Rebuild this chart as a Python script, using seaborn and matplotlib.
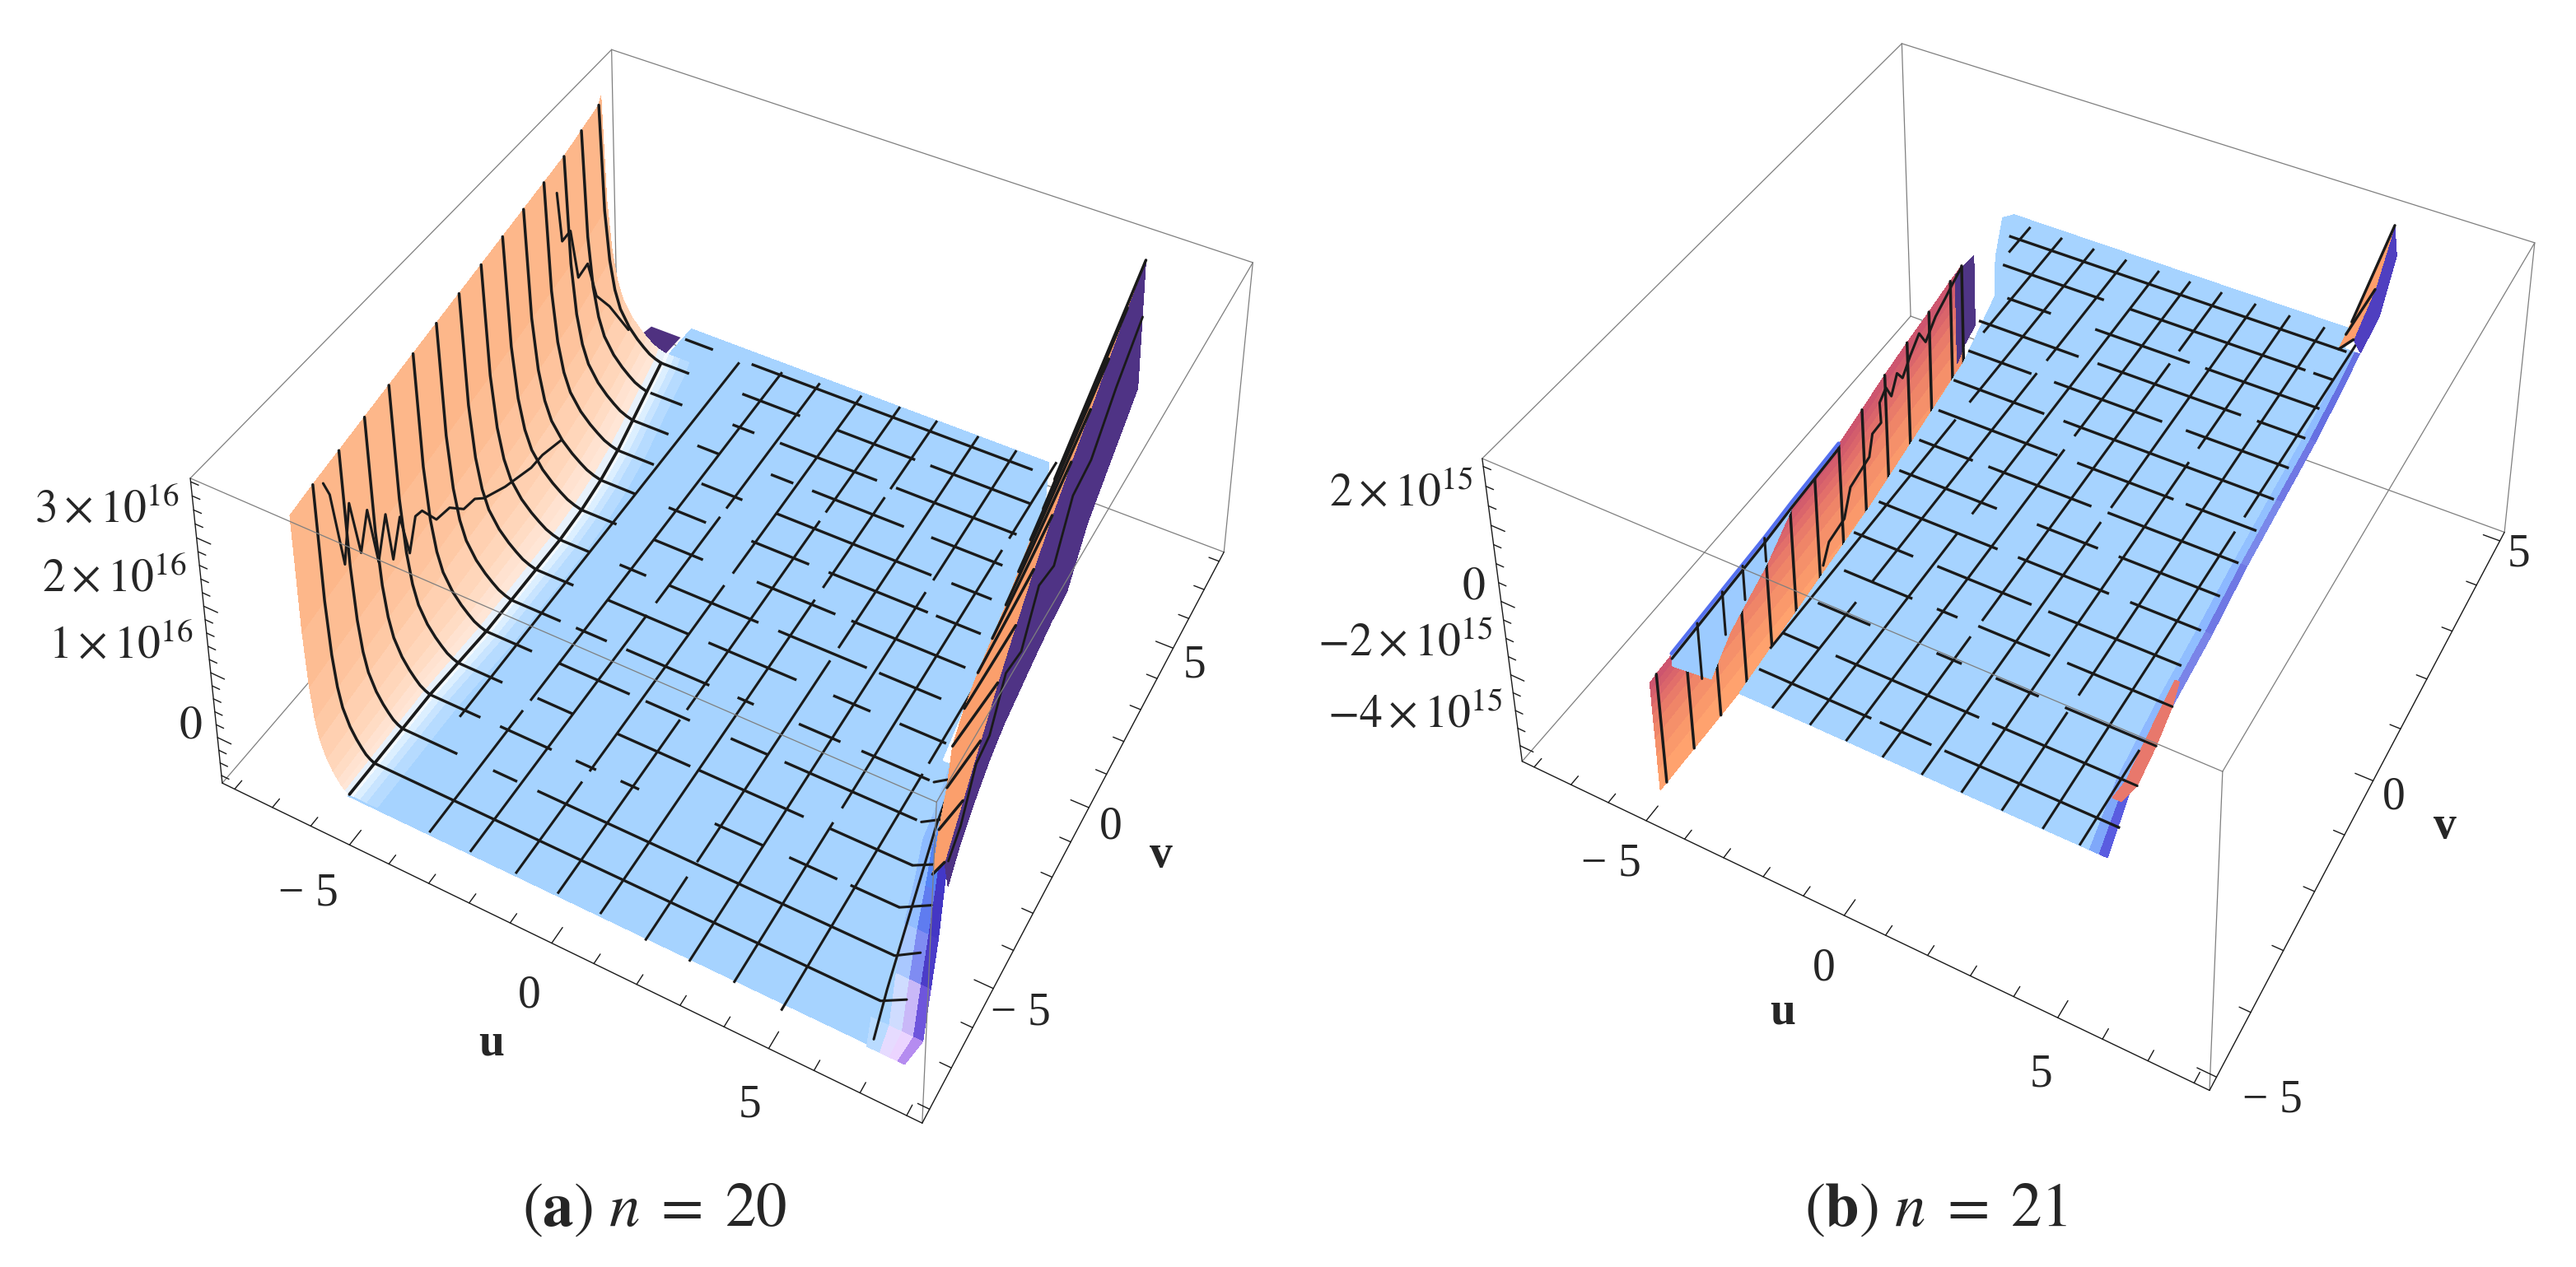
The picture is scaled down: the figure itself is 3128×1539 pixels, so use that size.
import numpy as np
import matplotlib
matplotlib.use('Agg')
import matplotlib.pyplot as plt
from matplotlib.text import Text
from mpl_toolkits.mplot3d import proj3d
import seaborn as sns

W, H = 3128, 1539
BLUE = '#A6D3FF'
BOX = '#7f7f7f'

sns.set_theme(style='white')
plt.rcParams['font.family'] = ['Liberation Serif', 'DejaVu Serif']
plt.rcParams['mathtext.fontset'] = 'stix'

# ---- panel (a) values, z in units of 1e16
a_ulim, a_vlim, a_zlim = (-8.33, 8.33), (-8.33, 8.33), (-0.72, 3.85)
a_minor = [-8, -7, -6, -5, -4, -3, -2, -1, 0, 1, 2, 3, 4, 5, 6, 7, 8]
a_major = [-5, 0, 5]
a_z_minor = [-0.6, -0.4, -0.2, 0, 0.2, 0.4, 0.6, 0.8, 1, 1.2, 1.4, 1.6, 1.8, 2, 2.2, 2.4, 2.6, 2.8, 3, 3.2, 3.4, 3.6, 3.8]
a_z_major = [0, 1, 2, 3]
a_z_labels = ['$0$', r'$1\times10^{16}$', r'$2\times10^{16}$', r'$3\times10^{16}$']
a_z_lift = [0.06, 0.3, 0.3, 0.3]

a_wall_v = [-8.2, -7.29, -6.25, -5.2, -4.17, -3.12, -2.08, -1.04, 0, 1.04, 2.08, 3.12, 4.17, 5.2, 6.25, 6.6]
a_wall_foot = [-5.0, -5.0, -5.0, -5.0, -4.95, -4.9, -4.9, -4.9, -4.9, -4.95, -5.05, -5.2, -5.4, -5.6, -5.8, -5.9]
a_wall_reach = [-5.95, -6.05, -6.15, -6.25, -6.35, -6.45, -6.55, -6.65, -6.75, -6.85, -6.95, -7.05, -7.15, -7.3, -7.45, -7.6]
a_wall_top = [3.85] * 16
a_wall_frac = [0, 0.1, 0.2, 0.3, 0.41, 0.55, 0.7, 0.79, 0.87, 0.94, 1]
a_wall_rise = [0, 0.008, 0.02, 0.04, 0.065, 0.105, 0.17, 0.245, 0.365, 0.57, 1]
a_fade_offset = [0, 0.12, 0.28, 0.45, 0.7]
a_fade_colors = ['#F4FAFF', '#DCEFFF', '#C8E4FF', '#B6DBFF', '#A6D3FF']

a_zig_v = [-7.27, -7.09, -6.77, -6.49, -6.21, -5.91, -5.64, -5.3, -5.13, -4.81, -4.54, -4.26, -4.01, -3.51, -3.0, -2.47, -2.03, -1.67, -0.82, 0.27, 0.76, 1.6]
a_zig_z = [3.92, 3.68, 2.53, 3.29, 2.44, 2.93, 2.04, 2.59, 1.84, 2.33, 1.66, 2.09, 2.06, 1.7, 1.65, 1.39, 1.35, 1.2, 1.0, 0.82, 0.81, 0.69]
a_zig2_v = [1.72, 1.88, 2.24, 2.52, 2.94, 3.29, 3.86, 4.71]
a_zig2_z = [4.46, 3.68, 3.7, 2.88, 2.93, 2.29, 1.9, 1.18]

a_floor_v = [-8.25, -7.3, -5.0, -3.0, -1.4, 2.0, 6.4, 7.7]
a_floor_left = [-5.0, -5.0, -5.0, -4.95, -4.9, -5.05, -5.8, -5.75]
a_floor_right = [7.1, 6.9, 6.2, 5.7, 5.5, 5.1, 4.5, 4.05]

a_right_v = [-4.17, -3.12, -2.08, -1.04, 0, 1.04, 2.08, 3.12, 4.17, 5.2, 6.25, 7.26]
a_right_foot = [6.55, 6.2, 5.9, 5.55, 5.35, 5.2, 5.08, 4.95, 4.8, 4.65, 4.52, 4.38]
a_right_outer = [6.8, 6.7, 6.6, 6.5, 6.42, 6.35, 6.3, 6.27, 6.25, 6.22, 6.2, 6.2]
a_right_top = [0.26, 0.59, 0.92, 1.24, 1.57, 1.9, 2.22, 2.55, 2.88, 3.2, 3.53, 3.85]
a_back_u = [6.9, 6.7, 6.55, 6.4, 6.28, 6.2, 6.12, 6.05, 6.0, 6.0, 6.1, 6.25]
a_back_z = [-0.08, -0.05, 0, 0, 0, 0, 0, 0, 0, 0.6, 1.2, 1.9]
a_purple_line_z = [0.3, 0.2, 0.55, 0.4, 0.8, 0.6, 1.1, 0.9, 1.5, 1.6, 2.3, 3.0]

a_band_v = [-8.3, -7.7, -6.6, -5.5, -4.5, -3.5, -2.9, -1.5]
a_band_u0 = [7.1, 6.9, 6.5, 6.15, 5.95, 5.7, 5.65, 5.45]
a_band_u1 = [7.9, 8.0, 7.65, 7.3, 6.95, 6.6, 6.5, 6.2]
a_band_colors = [['#B9DBFF', '#E6DBFF', '#EBD4FF', '#B58CF0', '#6B45D0'],
                 ['#A6D3FF', '#CFDCFF', '#C9B8F8', '#6E55DC', '#4C34B8'],
                 ['#A6D3FF', '#A9C8FF', '#7F8CF2', '#4B3CC8', '#4A3098'],
                 ['#A6D3FF', '#93BEFF', '#5F7CF0', '#4437C4', '#4A3090'],
                 ['#A6D3FF', '#8DBBFF', '#5585F5', '#4338C8', '#4C3090'],
                 ['#A6D3FF', '#8DBBFF', '#5A90F8', '#4A45D0', '#4F3185'],
                 ['#A6D3FF', '#98C6FF', '#70A4FA', '#5560E0', '#4F3185'],
                 ['#A6D3FF', '#A6D3FF', '#9ACBFF', '#7AA0F4', '#4F3185']]
a_blob_v = [6.3, 7.3]
a_blob_u0 = [-6.9, -6.7]
a_blob_u1 = [-5.9, -5.85]
a_edge_v = [-8.1, -7.0, -6.0, -5.0, -4.0, -3.0, -2.0]
a_edge_u = [7.15, 6.9, 6.7, 6.5, 6.3, 6.1, 5.95]
a_hook_v = [-7.29, -6.25, -5.2, -4.17, -3.12, -2.08]
a_hook_u0 = [6.9, 6.7, 6.3, 6.1, 5.8, 5.6]
a_hook_u1 = [7.45, 7.25, 7.0, 6.7, 6.45, 6.2]
a_hook_z = [0.2, 0.22, 0.25, 0.2, 0.25, 0.25]

a_u_mesh = [-4.1, -3.0, -2.0, -0.9, 0.1, 1.1, 2.2, 3.2, 4.2, 5.3]
a_u_segs = [[(-5.4, 7.2)],
            [(-8.2, -4.6), (-4.3, 7.4)],
            [(-8.2, -1.0), (-0.6, 2.4), (2.7, 7.5)],
            [(-8.2, -5.6), (-5.3, 0.6), (1.0, 7.6)],
            [(-8.2, -3.2), (-2.9, 3.4), (3.7, 7.7)],
            [(-8.2, 1.2), (1.6, 4.8), (5.1, 7.7)],
            [(-8.3, -6.6), (-6.2, -0.2), (0.2, 7.7)],
            [(-8.3, 2.6), (3.0, 7.7)],
            [(-8.3, -4.0), (-3.6, 4.6), (5.0, 7.8)],
            [(-8.4, -2.0), (-1.7, 1.4), (1.7, 7.0)]]
a_v_mesh = [-7.29, -6.25, -5.2, -4.17, -3.12, -2.08, -1.04, 0, 1.04, 2.08, 3.12, 4.17, 5.2, 6.25, 7.29]
a_v_segs = [[(-5.0, 6.9)],
            [(-5.0, -3.6), (-2.7, -2.1), (-1.6, 6.7)],
            [(-5.0, -3.7), (-3.2, -1.9), (-1.3, -0.8), (-0.2, 0.25), (2.06, 3.2), (3.8, 4.9), (5.2, 6.3)],
            [(-4.95, -3.8), (-2.9, -2.0), (-0.9, 0.9), (1.1, 3.6), (4.2, 6.1)],
            [(-4.9, -3.7), (-3.0, -1.2), (-0.8, 0.3), (1.3, 2.2), (2.6, 5.7)],
            [(-4.9, -3.6), (-3.2, -2.4), (-1.9, 0.2), (0.9, 1.3), (2.4, 3.4), (3.9, 5.5)],
            [(-4.9, -3.9), (-3.0, -0.9), (-0.4, 1.8), (2.7, 3.6), (4.3, 5.4)],
            [(-4.9, -4.1), (-3.3, -2.6), (-2.0, 0.3), (0.8, 3.0), (3.3, 4.8)],
            [(-4.95, -4.0), (-3.0, -1.7), (-0.3, 1.7), (2.1, 4.9)],
            [(-5.05, -4.1), (-3.2, -2.2), (-1.0, 0.5), (1.0, 3.5), (3.7, 4.8)],
            [(-5.2, -4.2), (-2.9, -1.8), (-0.9, 3.1), (3.6, 4.6)],
            [(-5.4, -4.4), (-3.6, -3.0), (-1.6, -1.0), (-0.5, 1.9), (2.6, 4.4)],
            [(-5.5, -4.6), (-3.2, -2.6), (-1.9, 0.7), (1.2, 4.3)],
            [(-5.8, -5.0), (-3.5, -1.9), (-0.9, 1.2), (1.6, 4.2)],
            [(-5.7, -4.9), (-3.8, 3.8)]]

# ---- panel (b) values, z in units of 1e15
b_ulim, b_vlim, b_zlim = (-8.33, 8.33), (-5.2, 5.2), (-4.45, 3.7)
b_u_minor = a_minor
b_u_major = a_major
b_v_minor = [-5, -4, -3, -2, -1, 0, 1, 2, 3, 4, 5]
b_v_major = [-5, 0, 5]
b_z_minor = [-4, -3.5, -3, -2.5, -2, -1.5, -1, -0.5, 0, 0.5, 1, 1.5, 2, 2.5, 3, 3.5]
b_z_major = [-4, -2, 0, 2]
b_z_labels = [r'$-4\times10^{15}$', r'$-2\times10^{15}$', '$0$', r'$2\times10^{15}$']
b_z_lift = [0.65, 0.65, 0.2, 0.62]

b_sheet_v = [-4.7, -4.55, -3.9, -3.25, -2.6, -1.95, -1.3, -0.65, 0, 0.65, 1.3, 1.95, 2.6, 3.25, 3.6]
b_sheet_top = [-1.45, -1.42, -1.36, -1.31, -1.25, -1.2, -1.14, -1.08, -1.03, -0.82, -0.6, -0.42, -0.27, -0.1, -0.03]
b_sheet_bottom = [-4.45] * 15
b_sheet_frac = [0, 0.2, 0.35, 0.5, 0.62, 0.72, 0.8, 0.87, 0.94, 1]
b_wig_v = [-0.56, -0.38, 0.05, 0.25, 0.79, 0.9, 1.15, 1.13, 1.32, 1.46, 1.64, 1.79, 2.03, 2.3, 2.48, 2.79, 3.08, 3.31, 3.6]
b_wig_z = [-3.81, -3.35, -3.23, -2.56, -2.35, -1.81, -1.79, -1.19, -0.98, -1.39, -0.94, -1.25, -0.88, -0.55, -1.0, -0.61, -0.42, -0.25, -0.06]
b_ledge_v = [-4.2, -3.4, -2.9, -1.94, -1.25, -0.61, 0]
b_ledge_top = [-1.39, -1.33, -1.29, -1.22, -1.13, -1.08, -1.03]
b_ledge_low = [-1.7, -3.19, -2.57, -1.94, -1.25, -1.14, -1.03]
b_arc_v = [-3.6, -3.0, -2.5, -1.95]
b_arc_top = [-1.35, -1.3, -1.25, -1.2]
b_arc_low = [-2.9, -2.5, -2.2, -1.85]
b_purple_v = [3.4, 3.65, 3.98]
b_purple_top = [-0.1, -0.1, -0.15]
b_purple_low = [-2.7, -2.4, -2.2]

b_floor_v = [-5.0, -1.4, 1.7, 3.2, 4.0, 4.9, 5.05]
b_floor_left = [-2.5, -2.9, -3.4, -3.9, -4.6, -5.2, -5.0]
b_floor_right = [5.6, 5.0, 4.75, 4.55, 4.45, 4.25, 4.2]
b_band_v = [-5.0, -3.9, -2.6, -1.3, 0, 1.3, 2.6, 3.9, 4.6]
b_band_u0 = [5.2, 4.95, 4.8, 4.7, 4.6, 4.5, 4.4, 4.3, 4.25]
b_band_u1 = [5.9, 5.55, 5.4, 5.3, 5.15, 5.05, 4.95, 4.8, 4.7]
b_band_colors = [['#A6D3FF', '#7FA8FA', '#5A5CE0', '#4B3FD0'],
                 ['#A6D3FF', '#8DB8FF', '#6A6ADF', '#D96A72'],
                 ['#A6D3FF', '#90BEFF', '#7A84E8', '#E07A6E'],
                 ['#A6D3FF', '#8CB8FF', '#6F78E4', '#CF5F72'],
                 ['#A6D3FF', '#92C0FF', '#7A88EA', '#C85872'],
                 ['#A6D3FF', '#92C0FF', '#7078E4', '#5A50D0'],
                 ['#A6D3FF', '#8FBCFF', '#6670E2', '#C45075'],
                 ['#A6D3FF', '#8FBCFF', '#6670E2', '#5850D0'],
                 ['#A6D3FF', '#8FBCFF', '#6670E2', '#5850D0']]
b_tail_v = [-4.2, -3.9, -3.25, -2.6, -2.2]
b_tail_u0 = [5.35, 5.4, 5.3, 5.2, 5.15]
b_tail_u1 = [5.55, 5.65, 5.55, 5.4, 5.25]
b_peak_v = [4.55, 4.9, 5.2]
b_peak_foot = [4.2, 4.15, 4.1]
b_peak_outer = [4.55, 4.8, 5.0]
b_peak_top = [0.4, 1.5, 3.0]
b_peak_back_u = [4.75, 4.95, 5.1]
b_peak_back_z = [0.1, 0.8, 2.2]

b_u_mesh = [-4.4, -3.5, -2.6, -1.7, -0.8, 0.05, 0.9, 1.8, 2.7, 3.6, 4.5, 5.3]
b_u_segs = [[(4.2, 4.9)],
            [(2.4, 4.9)],
            [(-4.2, 0.6), (1.0, 4.9)],
            [(-5.0, -3.0), (-2.6, 2.0), (2.3, 4.9)],
            [(-5.0, -1.3), (-0.9, 4.9)],
            [(-5.0, 0.8), (1.1, 4.9)],
            [(-5.0, -2.8), (-2.5, 3.1), (3.4, 4.9)],
            [(-5.0, -0.2), (0.1, 4.9)],
            [(-5.0, 1.4), (1.7, 4.9)],
            [(-5.0, -3.3), (-3.0, 4.9)],
            [(-5.0, 0.5), (0.8, 4.9)],
            [(-5.0, -3.4)]]
b_v_mesh = [-4.55, -3.9, -3.25, -2.6, -1.95, -1.3, -0.65, 0, 0.65, 1.3, 1.95, 2.6, 3.25, 3.9, 4.55]
b_v_segs = [[(-2.5, 0.2), (0.4, 1.6), (1.9, 5.8)],
            [(-2.6, -1.7), (-1.3, 2.1), (2.4, 5.4)],
            [(-2.4, -1.1), (0.5, 1.1), (1.9, 2.9), (3.5, 5.3)],
            [(-2.4, -0.7), (-0.1, 0.4), (0.9, 2.6), (3.0, 5.2)],
            [(-2.8, -1.3), (-0.7, 1.6), (2.0, 5.1)],
            [(-2.8, 0.2), (0.7, 2.9), (3.4, 5.05)],
            [(-2.9, -0.4), (0.6, 2.1), (2.6, 5.0)],
            [(-3.0, -1.6), (-1.2, 1.4), (1.8, 4.95)],
            [(-3.1, 0.0), (0.5, 2.9), (3.2, 4.9)],
            [(-3.3, -0.9), (-0.4, 4.85)],
            [(-3.5, -1.8), (-1.2, 1.6), (2.2, 4.75)],
            [(-3.8, -1.1), (-0.6, 3.1), (3.5, 4.7)],
            [(-3.6, -2.4), (-1.2, 1.3), (1.7, 4.6)],
            [(-4.3, -1.5), (-0.8, 3.8), (4.0, 4.5)],
            [(-4.7, 4.4)]]


def make_axes(left_px, view, aspect, centre, scale, ulim, vlim, zlim):
    ax = fig.add_axes([left_px / W, 0, H / W, 1], projection='3d', computed_zorder=False)
    ax.set_xticks([])
    ax.set_yticks([])
    ax.set_zticks([])
    ax.set_xlim(*ulim)
    ax.set_ylim(*vlim)
    ax.set_zlim(*zlim)
    ax.view_init(*view)
    ax.set_proj_type('persp', focal_length=aspect[0])
    ax.set_box_aspect((1, aspect[1], aspect[2]))
    ax.set_axis_off()
    cx, cy = centre
    sx, sy = scale
    ax.viewLim.intervalx = ((left_px - cx) / sx, (left_px + H - cx) / sx)
    ax.viewLim.intervaly = ((cy - H) / sy, cy / sy)
    return ax


def patch(ax, X, Y, Z, colors, zo):
    ax.plot_surface(np.array(X), np.array(Y), np.array(Z), facecolors=colors, shade=False,
                    rstride=1, cstride=1, linewidth=0, antialiased=False, zorder=zo)


def solid(shape, colour):
    return np.tile(matplotlib.colors.to_rgba(colour), (shape[0], shape[1], 1))


def table_colours(rows):
    return np.array([[matplotlib.colors.to_rgba(c) for c in row] for row in rows])


def strip(ax, v, u0, u1, z0, z1, colour, zo):
    X = np.column_stack([u0, u1])
    Y = np.column_stack([v, v])
    Z = np.column_stack([z0, z1])
    patch(ax, X, Y, Z, solid(X.shape, colour), zo)


def mesh_lines(ax, values, segs, along, zo, lw=1.2):
    for val, parts in zip(values, segs):
        for p0, p1 in parts:
            if along == 'v':
                ax.plot([val, val], [p0, p1], [0, 0], color='k', lw=lw, zorder=zo, solid_capstyle='butt')
            else:
                ax.plot([p0, p1], [val, val], [0, 0], color='k', lw=lw, zorder=zo, solid_capstyle='butt')


def box(ax, ul, vl, zl):
    u0, u1 = ul
    v0, v1 = vl
    z0, z1 = zl
    back = [((u0, v1, z0), (u0, v1, z1)), ((u0, v1, z0), (u0, v0, z0)), ((u0, v1, z0), (u1, v1, z0)),
            ((u0, v0, z1), (u0, v1, z1)), ((u0, v1, z1), (u1, v1, z1)), ((u1, v1, z1), (u1, v1, z0))]
    front = [((u0, v0, z1), (u1, v0, z1)), ((u1, v0, z1), (u1, v1, z1)), ((u1, v0, z1), (u1, v0, z0))]
    axes_edges = [((u0, v0, z0), (u1, v0, z0)), ((u1, v0, z0), (u1, v1, z0)), ((u0, v0, z0), (u0, v0, z1))]
    for edges, col, lw, zo in ((back, BOX, 0.45, 0.5), (front, BOX, 0.45, 20), (axes_edges, 'k', 0.5, 20)):
        for p, q in edges:
            ax.plot(*zip(p, q), color=col, lw=lw, zorder=zo)


def ticks(ax, ul, vl, zl, u_t, u_m, v_t, v_m, z_t, z_m, lens):
    u0, u1 = ul
    v0, v1 = vl
    for t in u_t:
        d = lens[0] if t in u_m else lens[0] * 0.6
        ax.plot([t, t], [v0, v0 + d], [zl[0]] * 2, color='k', lw=0.5, zorder=20)
    for t in v_t:
        d = lens[1] if t in v_m else lens[1] * 0.6
        ax.plot([u1, u1 - d], [t, t], [zl[0]] * 2, color='k', lw=0.5, zorder=20)
    for t in z_t:
        d = lens[2] if t in z_m else lens[2] * 0.55
        ax.plot([u0, u0 + d], [v0, v0], [t, t], color='k', lw=0.5, zorder=20)


def label(ax, u, v, z, s, ha='center', **kw):
    # project once, so the text sits at its real place in the 2d axes
    X, Y, _ = proj3d.proj_transform(u, v, z, ax.get_proj())
    ax.text2D(X, Y, s, transform=ax.transData, ha=ha, va='center', fontsize=20, zorder=30, **kw)


fig = plt.figure(figsize=(W / 200, H / 200), dpi=200)

# ---------------- panel (a)
ax = make_axes(0, (34.671, -61.906, -0.343), (0.4631, 1.0041, 0.3681), (907.2, 629.2), (7076.2, 9151.4),
               a_ulim, a_vlim, a_zlim)
box(ax, a_ulim, a_vlim, a_zlim)
ticks(ax, a_ulim, a_vlim, a_zlim, a_minor, a_major, a_minor, a_major, a_z_minor, a_z_major, (0.42, 0.42, 0.36))

# floor
strip(ax, a_floor_v, a_floor_left, a_floor_right, [0] * 8, [0] * 8, BLUE, 1)
# blue to purple rim at the front right
band_x = np.array([np.array(a_band_u0) + (np.array(a_band_u1) - np.array(a_band_u0)) * s for s in (0, 0.35, 0.6, 0.82, 1)]).T
band_y = np.column_stack([a_band_v] * 5)
patch(ax, band_x, band_y, np.zeros(band_x.shape), table_colours(a_band_colors), 2)
strip(ax, a_blob_v, a_blob_u0, a_blob_u1, [0, 0], [0, 0], '#4F3180', 1.5)

# pale fade on the floor next to the left wall
foot, reach, top = np.array(a_wall_foot), np.array(a_wall_reach), np.array(a_wall_top)
fade_x = foot[:, None] + np.array(a_fade_offset)[None, :]
fade_y = np.tile(np.array(a_wall_v)[:, None], (1, len(a_fade_offset)))
fade_c = np.tile(np.array([matplotlib.colors.to_rgba(c) for c in a_fade_colors])[None, :, :], (len(a_wall_v), 1, 1))
patch(ax, fade_x, fade_y, np.zeros(fade_x.shape), fade_c, 2.5)

# left wall, coloured by height
wall_cmap = sns.blend_palette(['#A6D3FF', '#D9EDFF', '#FFF7F4', '#FFE6D6', '#FFD5B8', '#FEC49E', '#FDB88B', '#FDB384'], as_cmap=True)
frac, rise = np.array(a_wall_frac), np.array(a_wall_rise)
wall_x = foot[:, None] + (reach - foot)[:, None] * frac[None, :]
wall_y = np.tile(np.array(a_wall_v)[:, None], (1, len(frac)))
wall_z = top[:, None] * rise[None, :]
wall_level = np.interp(wall_z, [0, 0.005, 0.03, 0.2, 0.55, 1.2, 2.2, 3.85], np.linspace(0.2, 1, 8))
patch(ax, wall_x, wall_y, wall_z, wall_cmap(wall_level), 3)
for i in range(1, len(a_wall_v) - 1):
    ax.plot(wall_x[i], wall_y[i], wall_z[i], color='k', lw=1.25, zorder=5, solid_joinstyle='round')
ax.plot(a_wall_foot[:-1], a_wall_v[:-1], [0] * 15, color='k', lw=1.35, zorder=5)
ax.plot([-5.8] * 22, a_zig_v, a_zig_z, color='k', lw=1.1, zorder=5)
ax.plot([-5.8] * 8, a_zig2_v, a_zig2_z, color='k', lw=1.1, zorder=5)

# floor mesh
mesh_lines(ax, a_u_mesh, a_u_segs, 'v', 6, lw=1.1)
mesh_lines(ax, a_v_mesh, a_v_segs, 'u', 6)
ax.plot(a_edge_u, a_edge_v, [0] * 7, color='k', lw=1.1, zorder=6)
for v, u0, u1, z in zip(a_hook_v, a_hook_u0, a_hook_u1, a_hook_z):
    ax.plot([u0, u1], [v, v], [0, z], color='k', lw=1.1, zorder=6)

# right wall, purple outer face first
strip(ax, a_right_v, a_right_outer, a_back_u, a_right_top, a_back_z, '#4F3385', 7)
strip(ax, a_right_v, a_right_foot, a_right_outer, [0] * 12, a_right_top, '#FB9F6C', 8)
for i in range(len(a_right_v)):
    ax.plot([a_right_foot[i], a_right_outer[i]], [a_right_v[i]] * 2, [0, a_right_top[i]], color='k', lw=1.25, zorder=9)
ax.plot(np.array(a_back_u) - 0.02, a_right_v, a_purple_line_z, color='k', lw=1.0, zorder=9)

for val, lab in zip(a_major, ['\u2212 5', '0', '5']):
    label(ax, val + (-0.05 if val < 0 else 0.25), a_vlim[0] - (1.4 if val < 0 else 1.25), a_zlim[0], lab)
    label(ax, a_ulim[1] + (0.7 if val < 0 else 0.6), val - 0.25, a_zlim[0], lab)
for val, lab, lift in zip(a_z_major, a_z_labels, a_z_lift):
    label(ax, a_ulim[0] - 0.4, a_vlim[0], val + lift, lab, ha='right')
label(ax, 0.15, a_vlim[0] - 2.5, a_zlim[0], 'u', fontweight='bold')
label(ax, a_ulim[1] + 1.8, -0.4, a_zlim[0], 'v', fontweight='bold')

# ---------------- panel (b)
ax = make_axes(W - H, (35.673, -61.31, 0.351), (0.4332, 0.9992, 0.3918), (2471.7, 605.4), (6991.1, 8690.7),
               b_ulim, b_vlim, b_zlim)
box(ax, b_ulim, b_vlim, b_zlim)
ticks(ax, b_ulim, b_vlim, b_zlim, b_u_minor, b_u_major, b_v_minor, b_v_major, b_z_minor, b_z_major, (0.27, 0.42, 0.36))

# sheet at the low u edge, red at the top and orange below
sheet_cmap = sns.blend_palette(['#FFA26E', '#FC9C6C', '#F8946A', '#F28A69', '#EC8068', '#E3706A', '#D45E6C', '#C84F70'], as_cmap=True)
s_top, s_bot, s_frac = np.array(b_sheet_top), np.array(b_sheet_bottom), np.array(b_sheet_frac)
s_z = s_bot[:, None] + (s_top - s_bot)[:, None] * s_frac[None, :]
s_y = np.tile(np.array(b_sheet_v)[:, None], (1, len(s_frac)))
s_x = np.full(s_z.shape, -5.2)
patch(ax, s_x, s_y, s_z, sheet_cmap(np.tile(s_frac[None, :], (len(s_top), 1))), 1)
strip(ax, b_purple_v, [-5.2] * 3, [-5.2] * 3, b_purple_top, b_purple_low, '#4F3585', 1.5)
for v, zt in zip(b_sheet_v[1:], b_sheet_top[1:]):
    ax.plot([-5.2, -5.2], [v, v], [-4.45, zt], color='k', lw=1.25, zorder=2)
ax.plot([-5.2] * 19, b_wig_v, b_wig_z, color='k', lw=1.1, zorder=2)

# floor and its rim
strip(ax, b_floor_v, b_floor_left, b_floor_right, [0] * 7, [0] * 7, BLUE, 3)
rim_x = np.array([np.array(b_band_u0) + (np.array(b_band_u1) - np.array(b_band_u0)) * s for s in (0, 0.45, 0.75, 1)]).T
rim_y = np.column_stack([b_band_v] * 4)
patch(ax, rim_x, rim_y, np.zeros(rim_x.shape), table_colours(b_band_colors), 3.5)
strip(ax, b_tail_v, b_tail_u0, b_tail_u1, [0] * 5, [0] * 5, '#E8786C', 3.7)
mesh_lines(ax, b_u_mesh, b_u_segs, 'v', 4, lw=1.1)
mesh_lines(ax, b_v_mesh, b_v_segs, 'u', 4)
for v, u0, u1 in zip(b_tail_v[1:4], b_tail_u0[1:4], b_tail_u1[1:4]):
    ax.plot([u0, u1], [v, v], [0, 0], color='k', lw=1.1, zorder=4)

# blue ledge above the sheet
strip(ax, b_ledge_v, [-5.2] * 7, [-5.2] * 7, b_ledge_low, b_ledge_top, '#9CCBFF', 5)
ax.plot([-5.2] * 7, b_ledge_v, np.array(b_ledge_top) + 0.04, color='#5570F0', lw=1.6, zorder=5.5)
ax.plot([-5.2] * 7, b_ledge_v, np.array(b_ledge_top) - 0.1, color='k', lw=1.2, zorder=5.6)
for v, z0, z1 in zip(b_arc_v, b_arc_top, b_arc_low):
    ax.plot([-5.2, -5.2], [v, v], [z0, z1], color='k', lw=1.1, zorder=5.6)

# orange peak at the far right corner
strip(ax, b_peak_v, b_peak_outer, b_peak_back_u, b_peak_top, b_peak_back_z, '#4F3FC0', 5)
strip(ax, b_peak_v, b_peak_foot, b_peak_outer, [0, 0, 0], b_peak_top, '#FF9E6B', 5.5)
for i in range(3):
    ax.plot([b_peak_foot[i], b_peak_outer[i]], [b_peak_v[i]] * 2, [0, b_peak_top[i]], color='k', lw=1.2, zorder=6)

for val, lab in zip(b_u_major, ['\u2212 5', '0', '5']):
    label(ax, val + (0 if val < 0 else 0.3), b_vlim[0] - 0.78, b_zlim[0], lab)
for val, lab in zip(b_v_major, ['\u2212 5', '0', '5']):
    label(ax, b_ulim[1] + (1.15 if val < 0 else 0.55), val + (0.04 if val < 0 else -0.12), b_zlim[0], lab)
for val, lab, lift in zip(b_z_major, b_z_labels, b_z_lift):
    label(ax, b_ulim[0] - 0.4, b_vlim[0], val + lift, lab, ha='right')
label(ax, 0.1, b_vlim[0] - 1.55, b_zlim[0], 'u', fontweight='bold')
label(ax, b_ulim[1] + 1.8, -0.25, b_zlim[0], 'v', fontweight='bold')

# captions
fig.text(795 / W, 1 - 1470 / H, r'$(\mathbf{a})\ n\;=\;20$', ha='center', va='center', fontsize=27)
fig.text(2351 / W, 1 - 1470 / H, r'$(\mathbf{b})\ n\;=\;21$', ha='center', va='center', fontsize=27)

# the 3d axes keep empty title and label texts around, hide them
for t in fig.findobj(Text):
    if not t.get_text():
        t.set_visible(False)

fig.savefig('out.png', dpi=200)
